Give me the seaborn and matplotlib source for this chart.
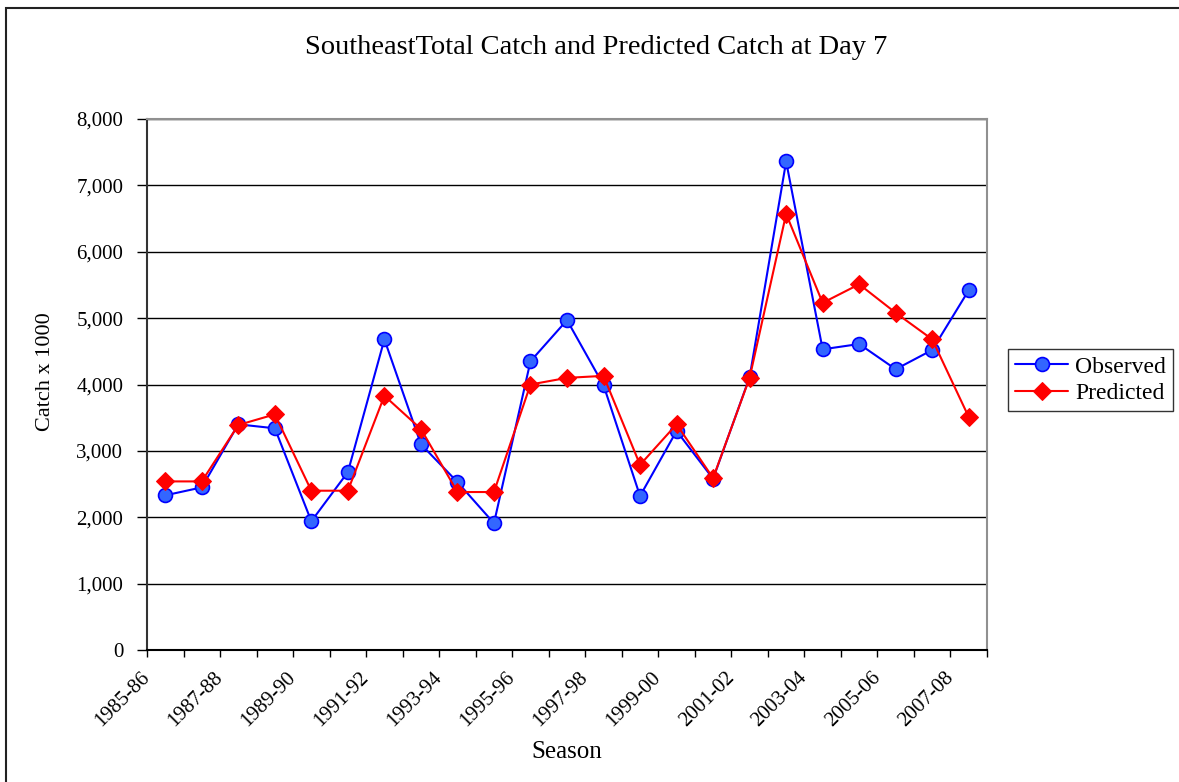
import numpy as np
import pandas as pd
import matplotlib
matplotlib.use("Agg")
import matplotlib.pyplot as plt
import seaborn as sns
from matplotlib.patches import Rectangle
from matplotlib.ticker import FuncFormatter, FixedLocator

seasons = ["1985-86", "1986-87", "1987-88", "1988-89", "1989-90", "1990-91",
           "1991-92", "1992-93", "1993-94", "1994-95", "1995-96", "1996-97",
           "1997-98", "1998-99", "1999-00", "2000-01", "2001-02", "2002-03",
           "2003-04", "2004-05", "2005-06", "2006-07", "2007-08"]
observed = [2330, 2450, 3400, 3340, 1940, 2680, 4680, 3100, 2530, 1910, 4350, 4970,
            3990, 2320, 3300, 2580, 4110, 7360, 4530, 4610, 4230, 4520, 5420]
predicted = [2540, 2540, 3390, 3550, 2400, 2400, 3830, 3330, 2380, 2380, 4000, 4100,
             4130, 2790, 3400, 2590, 4100, 6570, 5230, 5510, 5080, 4680, 3510]
tick_labels = seasons[::2]

sns.set_theme(style="white")
plt.rcParams["font.family"] = ["Liberation Serif", "DejaVu Serif"]

W, H = 1179, 782
fig = plt.figure(figsize=(W / 100, H / 100), dpi=100)
ax = fig.add_axes([147 / W, 1 - 650 / H, (987 - 147) / W, (650 - 119) / H])

idx = np.arange(len(seasons))
df = pd.DataFrame({"idx": idx, "Observed": observed, "Predicted": predicted})

sns.lineplot(data=df, x="idx", y="Observed", ax=ax, color="#0000FF", lw=1.5,
             marker="o", markersize=10, markerfacecolor="#3366FF",
             markeredgecolor="#0000FF", markeredgewidth=1.2, label="Observed", zorder=3)
sns.lineplot(data=df, x="idx", y="Predicted", ax=ax, color="#FF0000", lw=1.5,
             marker="D", markersize=9, markerfacecolor="#FF0000",
             markeredgecolor="#FF0000", label="Predicted", zorder=4)

ax.set_xlim(-0.5, len(seasons) - 0.5)
ax.set_ylim(0, 8000)
ax.set_yticks(np.arange(0, 8001, 1000))
ax.yaxis.set_major_formatter(FuncFormatter(lambda v, p: f"{int(v):,}"))
ax.grid(axis="y", color="black", lw=1.0)
ax.grid(axis="x", visible=False)

major = np.arange(-0.5, len(seasons), 2)
minor = np.arange(0.5, len(seasons) + 0.5, 2)
ax.xaxis.set_major_locator(FixedLocator(major))
ax.xaxis.set_minor_locator(FixedLocator(minor))
ax.set_xticklabels(tick_labels, rotation=45, ha="right", va="center",
                   rotation_mode="anchor", fontsize=15)
ax.tick_params(axis="x", which="both", bottom=True, direction="out",
               length=5, width=1, color="black", pad=13)
ax.tick_params(axis="y", left=True, direction="out", length=7, width=1,
               color="black", labelsize=15, pad=10)
for lbl in ax.get_yticklabels():
    lbl.set_color("black")
for lbl in ax.get_xticklabels():
    lbl.set_color("black")

ax.spines["left"].set_color("#333333")
ax.spines["bottom"].set_color("black")
ax.spines["top"].set_color("#909090")
ax.spines["right"].set_color("#909090")
for s in ax.spines.values():
    s.set_linewidth(1.5)
    s.set_visible(True)

ax.set_xlabel("")
ax.set_ylabel("")
fig.text(596 / W, 1 - 47 / H, "SoutheastTotal Catch and Predicted Catch at Day 7",
         ha="center", va="center", fontsize=20.5, color="black")
fig.text(567 / W, 1 - 752 / H, "Season", ha="center", va="center",
         fontsize=18, color="black")
fig.text(45 / W, 1 - 372 / H, "Catch x 1000", ha="center", va="center",
         rotation=90, fontsize=16, color="black")

leg = ax.legend(loc="upper left", bbox_to_anchor=(1008 / W, 1 - 349 / H),
                bbox_transform=fig.transFigure, borderaxespad=0, frameon=True,
                fancybox=False, edgecolor="black", fontsize=17, handlelength=2.25,
                labelspacing=0.2, borderpad=0.3, handletextpad=0.3)
leg.get_frame().set_linewidth(1.0)
for t in leg.get_texts():
    t.set_color("black")

fig.add_artist(Rectangle((6 / W, -0.1), 1.2, 1.1 - 8 / H, transform=fig.transFigure,
                         fill=False, ec="#222222", lw=1.5))

fig.savefig("out.png", dpi=100)
